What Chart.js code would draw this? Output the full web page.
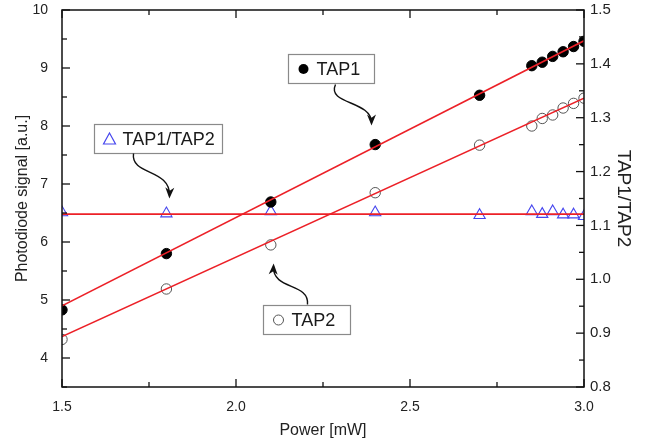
<!DOCTYPE html>
<html>
<head>
<meta charset="utf-8">
<script src="https://cdn.jsdelivr.net/npm/chart.js@4/dist/chart.umd.min.js"></script>
<style>
  html, body { margin: 0; padding: 0; background: #fff; }
  #wrap { width: 647px; height: 444px; }
</style>
</head>
<body>
<div id="wrap"><canvas id="chart"></canvas></div>
<script>
// measured values
const power = [1.5, 1.8, 2.1, 2.4, 2.7, 2.85, 2.88, 2.91, 2.94, 2.97, 3.0];
const tap1 = [4.83, 5.80, 6.69, 7.68, 8.53, 9.04, 9.10, 9.20, 9.28, 9.37, 9.46];
const tap2 = [4.32, 5.19, 5.95, 6.85, 7.67, 8.00, 8.13, 8.19, 8.31, 8.39, 8.48];
const ratio = [1.124, 1.122, 1.126, 1.124, 1.119, 1.126, 1.121, 1.126, 1.120, 1.120, 1.117];

// linear fits (end points)
const fitPower = [1.5, 3.0];
const tap1Fit = [4.90, 9.47];
const tap2Fit = [4.37, 8.48];
const ratioFit = [1.121, 1.121];

// tick labels
const xTicks = [1.5, 2.0, 2.5, 3.0];
const yTicks = [4, 5, 6, 7, 8, 9, 10];
const y2Ticks = [0.8, 0.9, 1.0, 1.1, 1.2, 1.3, 1.4, 1.5];

const FONT = "'Liberation Sans', Arial, sans-serif";
const RED = '#ec2027';

function pts(xs, ys) {
    return xs.map((x, i) => ({ x: x, y: ys[i] }));
}

// boxed labels with curly arrows (box placed in data units, arrow in px from box corner)
const notes = [
    { text: 'TAP1', marker: 'dot', x: 2.149, y: 9.24, w: 86, h: 29,
      arrow: [[47, 30], [38, 50], [83, 46], [83, 68]] },
    { text: 'TAP1/TAP2', marker: 'tri', x: 1.592, y: 8.035, w: 128, h: 29,
      arrow: [[39, 29], [36, 51], [76, 44], [75, 71]] },
    { text: 'TAP2', marker: 'ring', x: 2.079, y: 4.914, w: 87, h: 29,
      arrow: [[44, -1], [46, -23], [9, -15], [10, -39]] }
];

// keep the plot area pinned where the original one sits
function fixVertical(width) {
    return axis => {
        axis.width = width;
        axis.paddingTop = 10;
        axis.paddingBottom = 0;
    };
}

const framePlugin = {
    id: 'frame',
    afterDraw(chart) {
        const { ctx, chartArea: a, scales } = chart;
        ctx.save();
        ctx.strokeStyle = '#111';
        ctx.lineWidth = 1.5;
        ctx.strokeRect(a.left, a.top, a.right - a.left, a.bottom - a.top);

        ctx.lineWidth = 1.3;
        function tick(x1, y1, x2, y2) {
            ctx.beginPath(); ctx.moveTo(x1, y1); ctx.lineTo(x2, y2); ctx.stroke();
        }
        // x ticks, bottom and top, pointing inward
        xTicks.forEach((v, i) => {
            const px = scales.x.getPixelForValue(v);
            tick(px, a.bottom, px, a.bottom - 8);
            tick(px, a.top, px, a.top + 8);
            if (i < xTicks.length - 1) {
                const mx = scales.x.getPixelForValue((v + xTicks[i + 1]) / 2);
                tick(mx, a.bottom, mx, a.bottom - 5);
                tick(mx, a.top, mx, a.top + 5);
            }
        });
        // left ticks
        yTicks.forEach(v => {
            const py = scales.y.getPixelForValue(v);
            tick(a.left, py, a.left + 8, py);
            const my = scales.y.getPixelForValue(v - 0.5);
            tick(a.left, my, a.left + 5, my);
        });
        // right ticks
        y2Ticks.forEach((v, i) => {
            const py = scales.y2.getPixelForValue(v);
            tick(a.right, py, a.right - 8, py);
            if (i < y2Ticks.length - 1) {
                const my = scales.y2.getPixelForValue((v + y2Ticks[i + 1]) / 2);
                tick(a.right, my, a.right - 5, my);
            }
        });

        // boxed labels
        notes.forEach(n => {
            const bx = Math.round(scales.x.getPixelForValue(n.x)) + 0.5;
            const by = Math.round(scales.y.getPixelForValue(n.y)) + 0.5;
            ctx.fillStyle = '#fff';
            ctx.fillRect(bx, by, n.w, n.h);
            ctx.strokeStyle = '#8a8a8a';
            ctx.lineWidth = 1.2;
            ctx.strokeRect(bx, by, n.w, n.h);

            const mx = bx + 15, my = by + n.h / 2;
            if (n.marker === 'dot') {
                ctx.fillStyle = '#000';
                ctx.beginPath(); ctx.arc(mx, my, 5, 0, Math.PI * 2); ctx.fill();
            } else if (n.marker === 'ring') {
                ctx.strokeStyle = '#555';
                ctx.lineWidth = 1;
                ctx.beginPath(); ctx.arc(mx, my, 5, 0, Math.PI * 2); ctx.stroke();
            } else {
                ctx.strokeStyle = '#4646ee';
                ctx.lineWidth = 1.2;
                ctx.beginPath();
                ctx.moveTo(mx, my - 6); ctx.lineTo(mx + 6, my + 5); ctx.lineTo(mx - 6, my + 5);
                ctx.closePath(); ctx.stroke();
            }
            ctx.fillStyle = '#1a1a1a';
            ctx.font = '18px ' + FONT;
            ctx.textBaseline = 'middle';
            ctx.textAlign = 'left';
            ctx.fillText(n.text, bx + 28, my + 1);

            // curly arrow
            const p = n.arrow.map(q => [bx + q[0], by + q[1]]);
            ctx.strokeStyle = '#111';
            ctx.lineWidth = 1.4;
            ctx.beginPath();
            ctx.moveTo(p[0][0], p[0][1]);
            ctx.bezierCurveTo(p[1][0], p[1][1], p[2][0], p[2][1], p[3][0], p[3][1]);
            ctx.stroke();
            const ang = Math.atan2(p[3][1] - p[2][1], p[3][0] - p[2][0]);
            const L = 11, W = 4.5;
            const tx = p[3][0] + Math.cos(ang) * 3, ty = p[3][1] + Math.sin(ang) * 3;
            ctx.fillStyle = '#111';
            ctx.beginPath();
            ctx.moveTo(tx, ty);
            ctx.lineTo(tx - L * Math.cos(ang) + W * Math.sin(ang), ty - L * Math.sin(ang) - W * Math.cos(ang));
            ctx.lineTo(tx - L * 0.7 * Math.cos(ang), ty - L * 0.7 * Math.sin(ang));
            ctx.lineTo(tx - L * Math.cos(ang) - W * Math.sin(ang), ty - L * Math.sin(ang) + W * Math.cos(ang));
            ctx.closePath();
            ctx.fill();
        });
        ctx.restore();
    }
};

const ctx = document.getElementById('chart').getContext('2d');
const chart = new Chart(ctx, {
    type: 'scatter',
    data: {
        datasets: [
            {
                label: 'TAP1 fit', type: 'line', data: pts(fitPower, tap1Fit),
                borderColor: RED, borderWidth: 1.6, pointRadius: 0, yAxisID: 'y', order: 1
            },
            {
                label: 'TAP2 fit', type: 'line', data: pts(fitPower, tap2Fit),
                borderColor: RED, borderWidth: 1.6, pointRadius: 0, yAxisID: 'y', order: 1
            },
            {
                label: 'ratio fit', type: 'line', data: pts(fitPower, ratioFit),
                borderColor: RED, borderWidth: 1.6, pointRadius: 0, yAxisID: 'y2', order: 1
            },
            {
                label: 'TAP1', data: pts(power, tap1), yAxisID: 'y',
                pointRadius: 5.2, pointBackgroundColor: '#000', pointBorderColor: '#000',
                pointBorderWidth: 1, clip: 0, order: 2
            },
            {
                label: 'TAP2', data: pts(power, tap2), yAxisID: 'y',
                pointRadius: 5.2, pointBackgroundColor: 'rgba(0,0,0,0)', pointBorderColor: '#555',
                pointBorderWidth: 1, clip: 0, order: 2
            },
            {
                label: 'TAP1/TAP2', data: pts(power, ratio), yAxisID: 'y2',
                pointStyle: 'triangle', pointRadius: 6.5, pointBackgroundColor: 'rgba(0,0,0,0)',
                pointBorderColor: '#4646ee', pointBorderWidth: 1.1, clip: 0, order: 2
            }
        ]
    },
    options: {
        responsive: true,
        maintainAspectRatio: false,
        animation: false,
        layout: { padding: { top: 0, left: 0, right: 0, bottom: 0 } },
        plugins: {
            legend: { display: false },
            tooltip: { enabled: false }
        },
        scales: {
            x: {
                type: 'linear', min: 1.5, max: 3.0,
                afterBuildTicks: axis => { axis.ticks = xTicks.map(v => ({ value: v })); },
                afterFit: axis => { axis.height = 57; },
                ticks: { color: '#222', font: { family: FONT, size: 14 }, padding: 12,
                         callback: v => Number(v).toFixed(1), maxRotation: 0 },
                grid: { display: false, drawTicks: false },
                border: { display: false },
                title: { display: true, text: 'Power [mW]', color: '#222',
                         font: { family: FONT, size: 16 }, padding: { top: 0, bottom: 4 } }
            },
            y: {
                type: 'linear', position: 'left', min: 3.5, max: 10,
                afterBuildTicks: axis => { axis.ticks = yTicks.map(v => ({ value: v })); },
                afterFit: fixVertical(62),
                ticks: { color: '#222', font: { family: FONT, size: 14 }, padding: 14,
                         callback: v => String(v) },
                grid: { display: false, drawTicks: false },
                border: { display: false },
                title: { display: true, text: 'Photodiode signal [a.u.]', color: '#222',
                         font: { family: FONT, size: 16 }, padding: { top: 13, bottom: 0 } }
            },
            y2: {
                type: 'linear', position: 'right', min: 0.8, max: 1.5,
                afterBuildTicks: axis => { axis.ticks = y2Ticks.map(v => ({ value: v })); },
                afterFit: fixVertical(63),
                ticks: { color: '#222', font: { family: FONT, size: 15 }, padding: 6,
                         callback: v => Number(v).toFixed(1) },
                grid: { display: false, drawTicks: false },
                border: { display: false },
                title: { display: true, text: 'TAP1/TAP2', color: '#222',
                         font: { family: FONT, size: 19 }, padding: { top: 12, bottom: 0 } }
            }
        }
    },
    plugins: [framePlugin]
});
</script>
</body>
</html>
